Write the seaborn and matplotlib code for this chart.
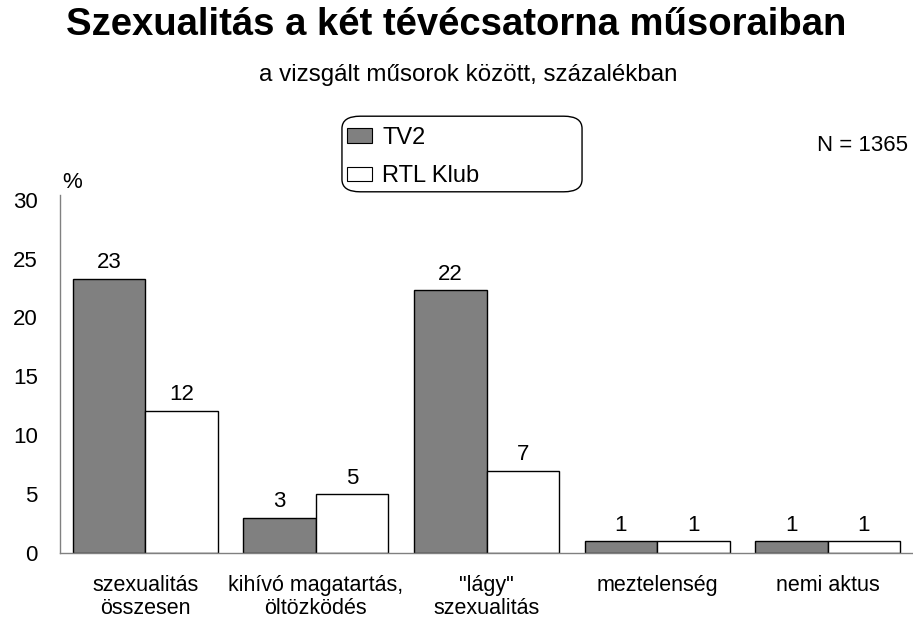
import numpy as np
import pandas as pd
import matplotlib
matplotlib.use('Agg')
import matplotlib.pyplot as plt
from matplotlib.patches import FancyBboxPatch
import seaborn as sns

# data
categories = ['szexualitás\nösszesen', 'kihívó magatartás,\nöltözködés', '"lágy"\nszexualitás',
              'meztelenség', 'nemi aktus']
tv2 = [23.3, 3.0, 22.3, 1.0, 1.0]
rtl = [12.1, 5.0, 7.0, 1.0, 1.0]
channels = ['TV2', 'RTL Klub']
colors = ['#808080', '#ffffff']

df = pd.DataFrame({
    'kategoria': categories * 2,
    'ertek': tv2 + rtl,
    'csatorna': [channels[0]] * len(categories) + [channels[1]] * len(categories),
})

sns.set_style('white')
plt.rcParams['font.family'] = ['Liberation Sans', 'DejaVu Sans']
plt.rcParams['text.color'] = 'black'
plt.rcParams['xtick.color'] = 'black'
plt.rcParams['ytick.color'] = 'black'

fig = plt.figure(figsize=(9.13, 6.18), dpi=100)
ax = fig.add_axes([60 / 913, 1 - 553 / 618, 1 - 60 / 913, (553 - 195) / 618])

sns.barplot(data=df, x='kategoria', y='ertek', hue='csatorna', palette=colors,
            edgecolor='black', linewidth=1, width=0.85, saturation=1, gap=0, ax=ax)

for cont in ax.containers:
    ax.bar_label(cont, labels=[f'{b.get_height():.0f}' for b in cont], padding=4, fontsize=16)

ax.set_ylim(0, 30.4)
ax.set_xlim(-0.5, 4.5)
ax.set_yticks([0, 5, 10, 15, 20, 25, 30])
ax.tick_params(axis='both', length=0, labelsize=16)
ax.tick_params(axis='x', pad=16, labelsize=15.5)
ax.tick_params(axis='y', pad=16)
for lab in ax.get_xticklabels():
    lab.set_linespacing(1.1)
ax.set_xlabel('')
ax.set_ylabel('')
for s in ['top', 'right']:
    ax.spines[s].set_visible(False)
for s in ['left', 'bottom']:
    ax.spines[s].set_color('#808080')
    ax.spines[s].set_linewidth(1)

# legend: rounded box wider than its entries, as in the reference
ax.get_legend().remove()
box = FancyBboxPatch((352 / 913, 1 - 185 / 618), 220 / 913, 62 / 618,
                     boxstyle='round,pad=0.011,rounding_size=0.02', transform=fig.transFigure,
                     facecolor='white', edgecolor='black', linewidth=1)
fig.add_artist(box)
handles = [plt.Rectangle((0, 0), 1, 1, facecolor=c, edgecolor='black', linewidth=0.8) for c in colors]
leg = fig.legend(handles, channels, loc='upper left', bbox_to_anchor=(335 / 913, 1 - 115 / 618),
                 fontsize=17, frameon=False, handlelength=1.05, handleheight=0.55,
                 handletextpad=0.45, borderpad=0.0, labelspacing=0.7)

fig.text(0.5, 1 - 35 / 618, 'Szexualitás a két tévécsatorna műsoraiban', ha='center', va='baseline',
         fontsize=27.5, fontweight='bold')
fig.text(468 / 913, 1 - 81 / 618, 'a vizsgált műsorok között, százalékban', ha='center', va='baseline',
         fontsize=17.4)
fig.text(908 / 913, 1 - 151 / 618, 'N = 1365', ha='right', va='baseline', fontsize=16)
fig.text(62 / 913, 1 - 183 / 618, '%', ha='left', va='center', fontsize=16)

fig.savefig('out.png', dpi=100)
